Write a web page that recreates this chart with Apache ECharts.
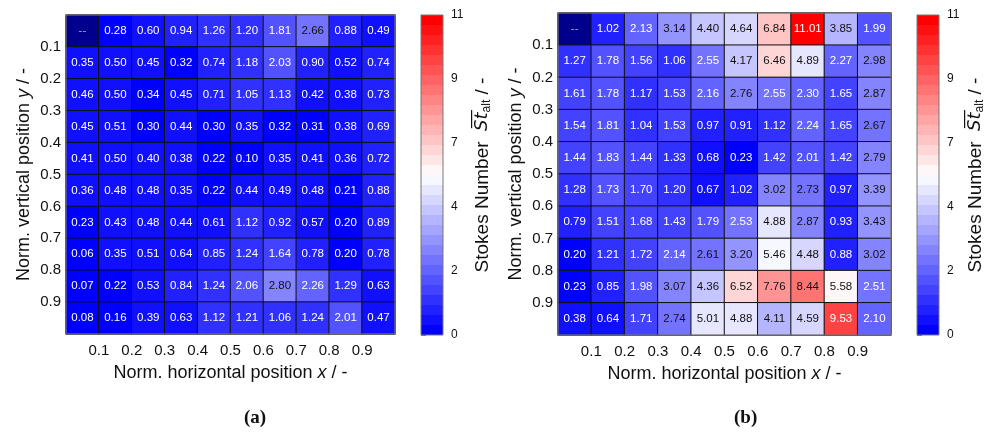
<!DOCTYPE html>
<html lang="en">
<head>
    <meta charset="UTF-8">
    <title>Stokes number maps</title>
    <script src="https://cdn.jsdelivr.net/npm/echarts@6/dist/echarts.min.js"></script>
    <style type="text/css">
        body{ margin:0; background:#fff; }
        #chart{ width:993px; height:435px; }
    </style>
</head>
<body>
<div id="chart"></div>
<script type="text/javascript">
    // cell centres (categories) and the boundary tick labels
    var colCats = ['0.05','0.15','0.25','0.35','0.45','0.55','0.65','0.75','0.85','0.95'];
    var rowCats = ['0.05','0.15','0.25','0.35','0.45','0.55','0.65','0.75','0.85','0.95'];
    var tickLabels = ['0.1','0.2','0.3','0.4','0.5','0.6','0.7','0.8','0.9'];
    var cbTicks = ['0','2','4','7','9','11'];

    // (a) rows top -> bottom, null = no value ("--")
    var valuesA = [
        [null,0.28,0.60,0.94,1.26,1.20,1.81,2.66,0.88,0.49],
        [0.35,0.50,0.45,0.32,0.74,1.18,2.03,0.90,0.52,0.74],
        [0.46,0.50,0.34,0.45,0.71,1.05,1.13,0.42,0.38,0.73],
        [0.45,0.51,0.30,0.44,0.30,0.35,0.32,0.31,0.38,0.69],
        [0.41,0.50,0.40,0.38,0.22,0.10,0.35,0.41,0.36,0.72],
        [0.36,0.48,0.48,0.35,0.22,0.44,0.49,0.48,0.21,0.88],
        [0.23,0.43,0.48,0.44,0.61,1.12,0.92,0.57,0.20,0.89],
        [0.06,0.35,0.51,0.64,0.85,1.24,1.64,0.78,0.20,0.78],
        [0.07,0.22,0.53,0.84,1.24,2.06,2.80,2.26,1.29,0.63],
        [0.08,0.16,0.39,0.63,1.12,1.21,1.06,1.24,2.01,0.47]
    ];
    // (b)
    var valuesB = [
        [null,1.02,2.13,3.14,4.40,4.64,6.84,11.01,3.85,1.99],
        [1.27,1.78,1.56,1.06,2.55,4.17,6.46,4.89,2.27,2.98],
        [1.61,1.78,1.17,1.53,2.16,2.76,2.55,2.30,1.65,2.87],
        [1.54,1.81,1.04,1.53,0.97,0.91,1.12,2.24,1.65,2.67],
        [1.44,1.83,1.44,1.33,0.68,0.23,1.42,2.01,1.42,2.79],
        [1.28,1.73,1.70,1.20,0.67,1.02,3.02,2.73,0.97,3.39],
        [0.79,1.51,1.68,1.43,1.79,2.53,4.88,2.87,0.93,3.43],
        [0.20,1.21,1.72,2.14,2.61,3.20,5.46,4.48,0.88,3.02],
        [0.23,0.85,1.98,3.07,4.36,6.52,7.76,8.44,5.58,2.51],
        [0.38,0.64,1.71,2.74,5.01,4.88,4.11,4.59,9.53,2.10]
    ];

    var font = 'Liberation Sans';

    function buildData(vals){
        var out = [];
        for(var r = 0; r < vals.length; r++){
            for(var c = 0; c < vals[r].length; c++){
                var v = vals[r][c];
                var dark = (v === null || v < 2.58 || v > 9);
                out.push({
                    value: [c, r, v === null ? -1 : v],
                    label: { color: v === null ? '#aaa' : (dark ? '#fff' : '#111') }
                });
            }
        }
        return out;
    }

    function heatSeries(vals, xi, yi){
        return {
            type: 'heatmap',
            xAxisIndex: xi,
            yAxisIndex: yi,
            data: buildData(vals),
            itemStyle: { borderColor: '#111', borderWidth: 1 },
            label: {
                show: true,
                fontFamily: font,
                fontSize: 11.5,
                formatter: function(p){
                    return p.value[2] < 0 ? '--' : p.value[2].toFixed(2);
                }
            },
            emphasis: { disabled: true }
        };
    }

    function catX(gi){
        return { type:'category', gridIndex:gi, data:colCats, show:false, position:'bottom' };
    }
    function catY(gi){
        return { type:'category', gridIndex:gi, data:rowCats, inverse:true, show:false, position:'left' };
    }
    function tickFmt(v){
        var i = Math.round(v * 10) - 1;
        return (i >= 0 && i < tickLabels.length) ? tickLabels[i] : '';
    }
    function labX(gi){
        return {
            type:'value', gridIndex:gi, min:0, max:1, interval:0.1, position:'bottom',
            name:'Norm. horizontal position {i|x} / -',
            nameLocation:'middle', nameGap:30,
            nameTextStyle:{ fontFamily:font, fontSize:18, color:'#111', rich:{ i:{ fontFamily:font, fontSize:18, fontStyle:'italic', color:'#111' } } },
            axisLine:{ show:false }, axisTick:{ show:false }, splitLine:{ show:false },
            axisLabel:{ fontFamily:font, fontSize:15, color:'#111', margin:9, formatter:tickFmt }
        };
    }
    function labY(gi){
        return {
            type:'value', gridIndex:gi, min:0, max:1, interval:0.1, inverse:true, position:'left',
            name:'Norm. vertical position {i|y} / -',
            nameLocation:'middle', nameGap:33, nameRotate:90,
            nameTextStyle:{ fontFamily:font, fontSize:18, color:'#111', rich:{ i:{ fontFamily:font, fontSize:18, fontStyle:'italic', color:'#111' } } },
            axisLine:{ show:false }, axisTick:{ show:false }, splitLine:{ show:false },
            axisLabel:{ fontFamily:font, fontSize:15, color:'#111', margin:5, formatter:tickFmt }
        };
    }
    function cbX(gi){
        return { type:'value', gridIndex:gi, min:0, max:1, show:false };
    }
    function cbY(gi, gap){
        return {
            type:'value', gridIndex:gi, min:0, max:11, interval:2.2, position:'right',
            name:'Stokes Number  {st|S\u0305t\u0305}{sub|alt} / -',
            nameLocation:'middle', nameGap:gap, nameRotate:90,
            nameTextStyle:{
                fontFamily:font, fontSize:19, color:'#111',
                rich:{
                    st:{ fontFamily:'DejaVu Sans', fontSize:18, fontStyle:'italic', color:'#111' },
                    sub:{ fontFamily:font, fontSize:12, color:'#111', padding:[9,0,0,0] }
                }
            },
            axisLine:{ show:true, lineStyle:{ color:'#777' } },
            axisTick:{ show:true, length:5, lineStyle:{ color:'#777' } },
            splitLine:{ show:false },
            axisLabel:{
                fontFamily:font, fontSize:12, color:'#111', margin:8,
                formatter:function(v){ return cbTicks[Math.round(v / 2.2)]; }
            }
        };
    }
    function colorBar(si, left, top){
        return {
            type:'piecewise', seriesIndex:si, dimension:2,
            min:0, max:11.02, splitNumber:32,
            orient:'vertical', left:left, top:top, padding:0,
            itemWidth:22, itemHeight:10, itemGap:0, itemSymbol:'rect',
            showLabel:false, selectedMode:false, hoverLink:false,
            inRange:{ color:['#0000ff','#ffffff','#ff0000'] },
            outOfRange:{ color:'#00008c' }
        };
    }

    var myChart = echarts.init(document.getElementById('chart'));
    var option = {
        animation: false,
        title: [
            { text:'(a)', left:239, top:404, textStyle:{ fontFamily:'Liberation Serif', fontWeight:'bold', fontSize:19, color:'#111' } },
            { text:'(b)', left:729, top:404, textStyle:{ fontFamily:'Liberation Serif', fontWeight:'bold', fontSize:19, color:'#111' } }
        ],
        grid: [
            { left:66, top:15, width:329, height:319, show:true, borderColor:'#888', borderWidth:1, z:5 },
            { left:558, top:13, width:333, height:322, show:true, borderColor:'#888', borderWidth:1, z:5 },
            { left:421, top:15, width:22, height:320, show:true, borderColor:'#777', borderWidth:1, z:5 },
            { left:917, top:15, width:22, height:320, show:true, borderColor:'#777', borderWidth:1, z:5 }
        ],
        xAxis: [catX(0), labX(0), catX(1), labX(1), cbX(2), cbX(3)],
        yAxis: [catY(0), labY(0), catY(1), labY(1), cbY(2, 29), cbY(3, 26)],
        visualMap: [colorBar(0, 421, 15), colorBar(1, 917, 15)],
        series: [heatSeries(valuesA, 0, 0), heatSeries(valuesB, 2, 2)]
    };
    myChart.setOption(option);
</script>
</body>
</html>
